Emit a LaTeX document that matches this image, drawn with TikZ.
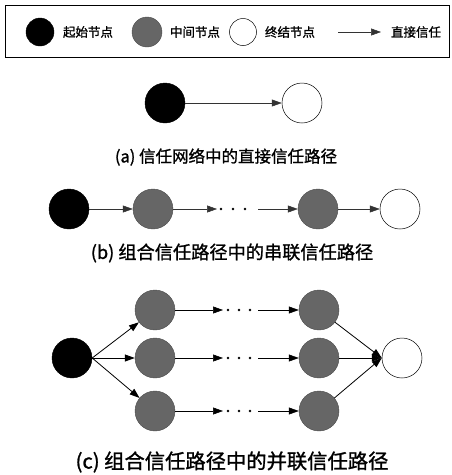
\documentclass[tikz,border=0pt]{standalone}
\usepackage{fontspec}
\newfontfamily\cjk{Noto Sans CJK SC}[FakeBold=1.2]
\usetikzlibrary{arrows.meta}
\begin{document}
\begin{tikzpicture}[x=1pt,y=-1pt,
  startnode/.style={circle,fill=black,draw=black,inner sep=0pt,minimum size=40pt},
  midnode/.style={circle,fill=black!60,draw=black!70,inner sep=0pt,minimum size=40pt},
  endnode/.style={circle,fill=white,draw=black,line width=0.5pt,inner sep=0pt,minimum size=40pt},
  dotnode/.style={circle,fill=black,inner sep=0pt,minimum size=2.6pt},
  thinarrow/.style={draw=black!80,line width=0.5pt,-{Triangle[length=10pt,width=7pt]}},
  solidarrow/.style={draw=black,line width=0.8pt,-{Triangle[length=10pt,width=7pt]}},
  legtext/.style={font=\cjk\fontsize{12.5}{14}\selectfont,inner sep=0pt},
  captext/.style={font=\cjk\fontsize{16.5}{19}\selectfont,inner sep=0pt}]
\useasboundingbox (0,0) rectangle (452,475);
% legend
\node[draw=black,line width=0.8pt,minimum width=444pt,minimum height=52pt,inner sep=0pt] (legbox) at (227.5,31) {};
\node[startnode,minimum size=28pt] (ls) at (40,32) {};
\node[legtext] (lst) at (88,32) {起始节点};
\node[midnode,minimum size=30pt] (lm) at (147,32) {};
\node[legtext] (lmt) at (195,32) {中间节点};
\node[endnode,minimum size=27pt] (le) at (243,32) {};
\node[legtext] (let) at (290,32) {终结节点};
\coordinate (la1) at (338,32);
\coordinate (la2) at (381,32);
\draw[thinarrow] (la1) -- (la2);
\node[legtext] (lat) at (416,32) {直接信任};
% (a)
\node[startnode] (a1) at (165,103) {};
\node[endnode] (a2) at (302,103) {};
\draw[thinarrow] (a1) -- (a2);
\node[captext] (capa) at (226,157) {(a) 信任网络中的直接信任路径};
% (b)
\node[startnode] (b1) at (69,209) {};
\node[midnode] (b2) at (153,209) {};
\coordinate (bd1) at (217,209);
\node[dotnode] (bdA) at (221,209) {};
\node[dotnode] (bdB) at (233,209) {};
\node[dotnode] (bdC) at (245,209) {};
\coordinate (bd2) at (258,209);
\node[midnode] (b3) at (318,209) {};
\node[endnode] (b4) at (400,209) {};
\draw[thinarrow] (b1) -- (b2);
\draw[thinarrow] (b2) -- (bd1);
\draw[thinarrow] (bd2) -- (b3);
\draw[thinarrow] (b3) -- (b4);
\node[captext,font=\cjk\fontsize{18.2}{21}\selectfont] (capb) at (232,253) {(b) 组合信任路径中的串联信任路径};
% (c)
\node[startnode] (c0) at (72,358) {};
\node[endnode] (c4) at (402,358) {};
\foreach \r/\y in {t/310,m/358,b/411}{
  \node[midnode] (c1\r) at (155,\y) {};
  \node[midnode] (c2\r) at (319,\y) {};
  \coordinate (cd1\r) at (223,\y);
  \node[dotnode] (cdA\r) at (228,\y) {};
  \node[dotnode] (cdB\r) at (239,\y) {};
  \node[dotnode] (cdC\r) at (250,\y) {};
  \coordinate (cd2\r) at (258,\y);
  \draw[solidarrow] (c0.east) -- (c1\r);
  \draw[solidarrow,line width=0.6pt] (c1\r) -- (cd1\r);
  \draw[solidarrow,line width=0.6pt] (cd2\r) -- (c2\r);
  \draw[solidarrow] (c2\r) -- (c4.west);
}
\node[captext,font=\cjk\fontsize{20.3}{23}\selectfont] (capc) at (232,462) {(c) 组合信任路径中的并联信任路径};
\end{tikzpicture}
\end{document}
